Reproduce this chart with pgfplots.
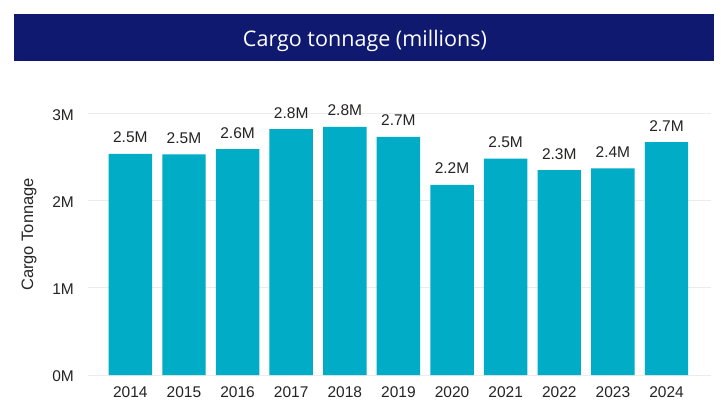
\documentclass[border=0pt]{standalone}
\usepackage{fontspec}
\setmainfont{Liberation Sans}
\newfontfamily\titlefont{Open Sans}
\usepackage{graphicx}
\usepackage{pgfplots}
\usepackage{pgfplotstable}
\pgfplotsset{compat=1.18}
\definecolor{navy}{RGB}{15,25,112}
\definecolor{barc}{RGB}{0,172,198}
\definecolor{txt}{RGB}{37,36,35}
\definecolor{gridc}{RGB}{236,236,236}
\pgfplotstableread{
x y label
0 2.534 2.5M
1 2.530 2.5M
2 2.590 2.6M
3 2.820 2.8M
4 2.844 2.8M
5 2.730 2.7M
6 2.180 2.2M
7 2.480 2.5M
8 2.350 2.3M
9 2.370 2.4M
10 2.670 2.7M
}\data
\begin{document}
\begin{tikzpicture}
\fill[white] (0,0) rectangle (727bp,409bp);
\useasboundingbox (0,0) rectangle (727bp,409bp);
\fill[navy] (14bp,348bp) rectangle (714bp,395bp);
\node[anchor=base, text=white, inner sep=0] at (365bp,362.3bp) {\resizebox{244bp}{!}{\titlefont Cargo tonnage (millions)}};
\begin{axis}[
  at={(88bp,34bp)}, anchor=south west,
  scale only axis, width=623bp, height=261.7bp,
  xmin=-0.79, xmax=10.83, ymin=0, ymax=3,
  ybar, bar width=0.81,
  clip=false,
  xtick={0,1,2,3,4,5,6,7,8,9,10},
  xticklabels={2014,2015,2016,2017,2018,2019,2020,2021,2022,2023,2024},
  ytick={0,1,2,3}, yticklabels={0M,1M,2M,3M},
  ymajorgrids, grid style={gridc, line width=0.8bp},
  axis line style={draw=none}, major tick length=0,
  tick label style={font=\fontsize{15.5bp}{18bp}\selectfont, text=txt},
  xticklabel style={anchor=base, inner sep=0, yshift=-22bp},
  yticklabel style={anchor=east, inner sep=0, xshift=-14bp, yshift=-1.5bp},
  ylabel={Cargo Tonnage},
  ylabel style={at={(axis description cs:-0.0947,0.537)}, anchor=center, font=\fontsize{16.5bp}{20bp}\selectfont, text=black!85},
]
\addplot[fill=barc, draw=none, nodes near coords, point meta=explicit symbolic,
  nodes near coords style={anchor=base, inner sep=0, yshift=11bp, font=\fontsize{15.5bp}{18bp}\selectfont, text=txt}]
  table[x=x, y=y, meta=label]{\data};
\end{axis}
\end{tikzpicture}
\end{document}
